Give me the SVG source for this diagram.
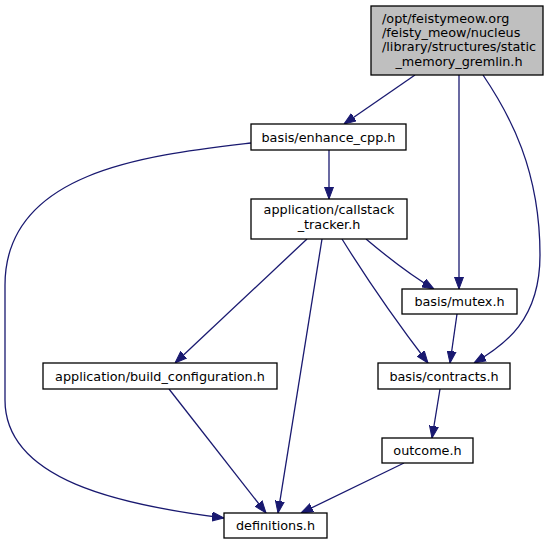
<svg xmlns="http://www.w3.org/2000/svg" width="554" height="544" viewBox="0 0 554 544">
<style>
.box{fill:#ffffff;stroke:#000000;stroke-width:1.3}
.root{fill:#bfbfbf;stroke:#000000;stroke-width:1.3}
text{font-family:"DejaVu Sans",sans-serif;font-size:12.8px;fill:#000000}
.c{text-anchor:middle}
.e{fill:none;stroke:#191970;stroke-width:1.3}
</style>
<defs>
<marker id="ah" markerUnits="userSpaceOnUse" markerWidth="12" markerHeight="10" refX="12" refY="5" orient="auto">
<path d="M0,0.5 L12,5 L0,9.5 z" fill="#191970" stroke="#191970" stroke-width="1"/>
</marker>
</defs>
<rect width="554" height="544" fill="#ffffff"/>
<g id="edges">
<path class="e" marker-end="url(#ah)" d="M415,75 L344,124"/>
<path class="e" marker-end="url(#ah)" d="M459,75 L459,289"/>
<path class="e" marker-end="url(#ah)" d="M483,75 C510,115 540,170 540,255 C540,320 505,345 474,363"/>
<path class="e" marker-end="url(#ah)" d="M251,143 C150,155 5,170 5,285 L5,400 C5,480 120,505 224,518"/>
<path class="e" marker-end="url(#ah)" d="M329,150 L329,199"/>
<path class="e" marker-end="url(#ah)" d="M307,239 L175,363"/>
<path class="e" marker-end="url(#ah)" d="M322,239 L278,513"/>
<path class="e" marker-end="url(#ah)" d="M366,239 C385,255 410,275 434,289"/>
<path class="e" marker-end="url(#ah)" d="M342,239 C360,268 395,320 428,363"/>
<path class="e" marker-end="url(#ah)" d="M457,314 L450,363"/>
<path class="e" marker-end="url(#ah)" d="M169,389 L266,513"/>
<path class="e" marker-end="url(#ah)" d="M440,389 L432,438"/>
<path class="e" marker-end="url(#ah)" d="M404,463 L301,513"/>
</g>
<g id="n_root">
<rect class="root" x="371" y="6" width="172" height="69"/>
<text x="382" y="23">/opt/feistymeow.org</text>
<text x="382" y="37">/feisty_meow/nucleus</text>
<text x="382" y="51">/library/structures/static</text>
<text class="c" x="459" y="66">_memory_gremlin.h</text>
</g>
<g id="n_enhance">
<rect class="box" x="251" y="124" width="155" height="26"/>
<text class="c" x="328.5" y="141.5">basis/enhance_cpp.h</text>
</g>
<g id="n_callstack">
<rect class="box" x="251" y="199" width="156" height="40"/>
<text class="c" x="329" y="214">application/callstack</text>
<text class="c" x="329" y="229">_tracker.h</text>
</g>
<g id="n_mutex">
<rect class="box" x="402" y="289" width="115" height="25"/>
<text class="c" x="459.5" y="306">basis/mutex.h</text>
</g>
<g id="n_build">
<rect class="box" x="43" y="363" width="234" height="26"/>
<text class="c" x="160" y="380.5">application/build_configuration.h</text>
</g>
<g id="n_contracts">
<rect class="box" x="378" y="363" width="132" height="26"/>
<text class="c" x="444" y="380.5">basis/contracts.h</text>
</g>
<g id="n_outcome">
<rect class="box" x="382" y="438" width="91" height="25"/>
<text class="c" x="427.5" y="455">outcome.h</text>
</g>
<g id="n_definitions">
<rect class="box" x="224" y="513" width="103" height="25"/>
<text class="c" x="275.5" y="530">definitions.h</text>
</g>
</svg>
